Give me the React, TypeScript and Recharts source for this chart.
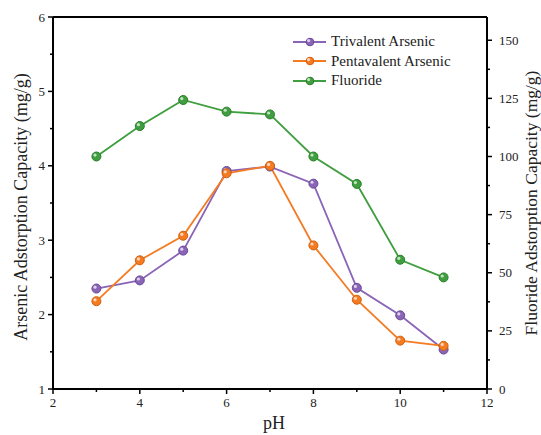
import React from "react";
import {
  LineChart,
  Line,
  XAxis,
  YAxis,
  Legend,
  ReferenceLine,
} from "recharts";

const ph = [3, 4, 5, 6, 7, 8, 9, 10, 11];
const trivalent = [2.35, 2.46, 2.86, 3.93, 3.99, 3.76, 2.36, 1.99, 1.53];
const pentavalent = [2.18, 2.73, 3.06, 3.9, 4.0, 2.93, 2.2, 1.65, 1.58];
const fluoride = [100.0, 113.1, 124.3, 119.3, 118.1, 100.0, 88.2, 55.6, 48.0];

const xTicks = [2, 3, 4, 5, 6, 7, 8, 9, 10, 11, 12];
const xLabels = [2, 4, 6, 8, 10, 12];
const leftTicks = [1, 1.5, 2, 2.5, 3, 3.5, 4, 4.5, 5, 5.5, 6];
const leftLabels = [1, 2, 3, 4, 5, 6];
const rightTicks = [0, 12.5, 25, 37.5, 50, 62.5, 75, 87.5, 100, 112.5, 125, 137.5, 150];
const rightLabels = [0, 25, 50, 75, 100, 125, 150];

const FONT = "'Liberation Serif', 'Times New Roman', serif";

const series = [
  { key: "tri", name: "Trivalent Arsenic", color: "#8a64b6", dark: "#6a4896", axis: "left" },
  { key: "penta", name: "Pentavalent Arsenic", color: "#f47b22", dark: "#d25f0c", axis: "left" },
  { key: "fl", name: "Fluoride", color: "#3f9e3f", dark: "#2a7f2a", axis: "right" },
];

const data = ph.map((p, i) => ({
  ph: p,
  tri: trivalent[i],
  penta: pentavalent[i],
  fl: fluoride[i],
}));

function Ball({ cx, cy, color, dark, r = 4.5 }: any) {
  if (cx == null || cy == null) return null;
  return (
    <g>
      <circle cx={cx} cy={cy} r={r} fill={color} stroke={dark} strokeWidth={1} />
      <circle cx={cx - 1.4} cy={cy - 1.4} r={1.6} fill="#fff" opacity={0.7} />
    </g>
  );
}

function XTick({ x, y, payload }: any) {
  const major = xLabels.includes(payload.value);
  return (
    <g>
      <line x1={x} x2={x} y1={y} y2={y + (major ? 5 : 3)} stroke="#000" strokeWidth={1.5} />
      {major && (
        <text x={x} y={y + 18} textAnchor="middle" fontSize={13} fontFamily={FONT} fill="#222">
          {payload.value}
        </text>
      )}
    </g>
  );
}

function LeftTick({ x, y, payload }: any) {
  const major = leftLabels.includes(payload.value);
  return (
    <g>
      <line x1={x} x2={x - (major ? 5 : 3)} y1={y} y2={y} stroke="#000" strokeWidth={1.5} />
      {major && (
        <text x={x - 8} y={y + 4.5} textAnchor="end" fontSize={13} fontFamily={FONT} fill="#222">
          {payload.value}
        </text>
      )}
    </g>
  );
}

function RightTick({ x, y, payload }: any) {
  const major = rightLabels.includes(payload.value);
  return (
    <g>
      <line x1={x} x2={x + (major ? 5 : 3)} y1={y} y2={y} stroke="#000" strokeWidth={1.5} />
      {major && (
        <text x={x + 12} y={y + 4.5} textAnchor="start" fontSize={13} fontFamily={FONT} fill="#222">
          {payload.value}
        </text>
      )}
    </g>
  );
}

function LegendBox() {
  return (
    <div style={{ fontFamily: FONT, fontSize: 15, color: "#222" }}>
      {series.map((s) => (
        <div key={s.key} style={{ display: "flex", alignItems: "center", height: 19.5 }}>
          <svg width={38} height={12} style={{ marginRight: 1 }}>
            <line x1={1} x2={34} y1={6} y2={6} stroke={s.color} strokeWidth={2} />
            <Ball cx={18} cy={6} r={3.8} color={s.color} dark={s.dark} />
          </svg>
          <span style={{ whiteSpace: "nowrap" }}>{s.name}</span>
        </div>
      ))}
    </div>
  );
}

export default function App() {
  return (
    <div style={{ position: "absolute", left: 0, top: 0, background: "#fff" }}>
      <LineChart width={541} height={435} data={data} margin={{ top: 17, right: 0, bottom: 0, left: 0 }}>
        <XAxis
          dataKey="ph"
          type="number"
          domain={[2, 12]}
          ticks={xTicks}
          interval={0}
          tickSize={0}
          tickMargin={0}
          tickLine={false}
          tick={<XTick />}
          height={46}
          axisLine={{ stroke: "#000", strokeWidth: 2 }}
          label={{
            content: ({ viewBox }: any) => (
              <text
                x={viewBox.x + viewBox.width / 2 + 4}
                y={viewBox.y + 40}
                textAnchor="middle"
                fontSize={18}
                fontFamily={FONT}
                fill="#222"
              >
                pH
              </text>
            ),
          }}
        />
        <YAxis
          yAxisId="left"
          type="number"
          domain={[1, 6]}
          ticks={leftTicks}
          interval={0}
          width={53}
          tickSize={0}
          tickMargin={0}
          tickLine={false}
          tick={<LeftTick />}
          axisLine={{ stroke: "#000", strokeWidth: 2 }}
          label={{
            content: ({ viewBox }: any) => {
              const cx = viewBox.x + 21;
              const cy = viewBox.y + viewBox.height / 2 + 4;
              return (
                <text
                  x={cx}
                  y={cy}
                  transform={`rotate(-90 ${cx} ${cy})`}
                  textAnchor="middle"
                  dominantBaseline="central"
                  fontSize={18}
                  fontFamily={FONT}
                  fill="#222"
                >
                  Arsenic Adstorption Capacity (mg/g)
                </text>
              );
            },
          }}
        />
        <YAxis
          yAxisId="right"
          orientation="right"
          type="number"
          domain={[0, 160]}
          ticks={rightTicks}
          interval={0}
          width={54}
          tickSize={0}
          tickMargin={0}
          tickLine={false}
          tick={<RightTick />}
          axisLine={{ stroke: "#000", strokeWidth: 2 }}
          label={{
            content: ({ viewBox }: any) => {
              const cx = viewBox.x + 44;
              const cy = viewBox.y + viewBox.height / 2;
              return (
                <text
                  x={cx}
                  y={cy}
                  transform={`rotate(-90 ${cx} ${cy})`}
                  textAnchor="middle"
                  dominantBaseline="central"
                  fontSize={17.5}
                  fontFamily={FONT}
                  fill="#222"
                >
                  Fluoride Adstorption Capacity (mg/g)
                </text>
              );
            },
          }}
        />
        <ReferenceLine yAxisId="left" y={6} stroke="#000" strokeWidth={2} />
        <Legend
          layout="vertical"
          verticalAlign="middle"
          align="center"
          wrapperStyle={{ left: 292, top: 32, width: 180 }}
          content={() => <LegendBox />}
        />
        {series.map((s) => (
          <Line
            key={s.key}
            yAxisId={s.axis}
            dataKey={s.key}
            name={s.name}
            type="linear"
            stroke={s.color}
            strokeWidth={1.8}
            dot={(p: any) => <Ball key={p.index} cx={p.cx} cy={p.cy} color={s.color} dark={s.dark} />}
            activeDot={false}
            isAnimationActive={false}
          />
        ))}
      </LineChart>
    </div>
  );
}
